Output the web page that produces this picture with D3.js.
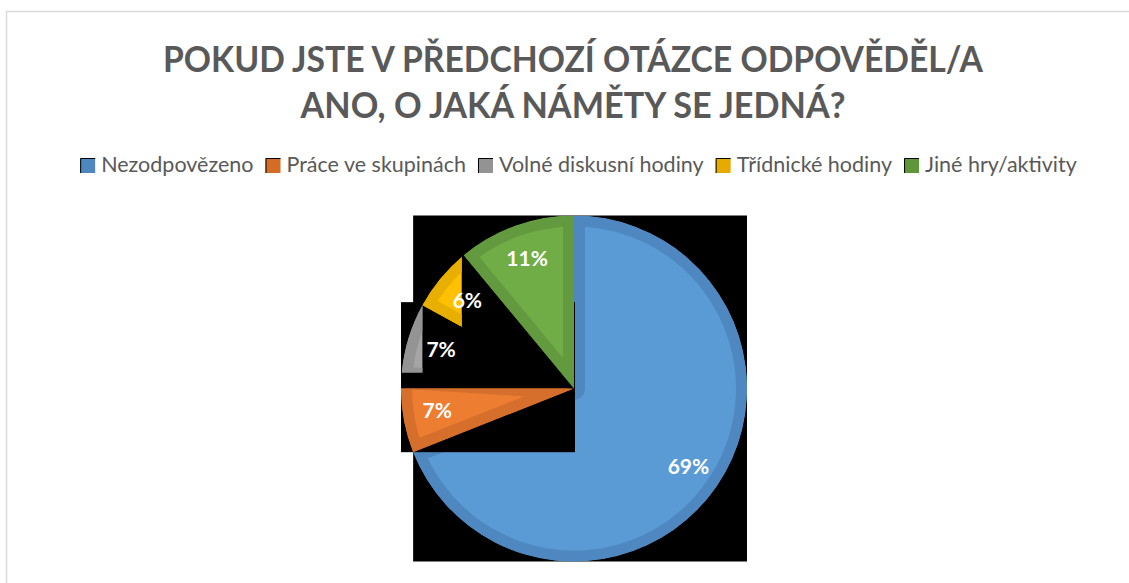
<!DOCTYPE html>
<html>
<head>
<meta charset="utf-8">
<script src="https://cdn.jsdelivr.net/npm/d3@7"></script>
<style>
  body { margin: 0; background: #fff; }
  svg { display: block; }
  .title { font-family: Lato, "Open Sans", sans-serif; font-weight: 700; fill: #595959; }
  .legend text { font-family: Lato, "Open Sans", sans-serif; fill: #595959; }
  .lbl { font-family: Lato, "Open Sans", sans-serif; font-weight: 700; fill: #fff; }
</style>
</head>
<body>
<script>
//size of the page
var w = 1129;
var h = 583;

//data
var titleLines = ["POKUD JSTE V PŘEDCHOZÍ OTÁZCE ODPOVĚDĚL/A", "ANO, O JAKÁ NÁMĚTY SE JEDNÁ?"];
var categories = ["Nezodpovězeno", "Práce ve skupinách", "Volné diskusní hodiny", "Třídnické hodiny", "Jiné hry/aktivity"];
var values = [69, 7, 7, 6, 11];

//colours: slice fill, darker inner rim, legend swatch
var fills = ["#5b9bd5", "#ed7d31", "#a5a5a5", "#ffc000", "#70ad47"];
var rims = ["#4f88c0", "#d66f2b", "#949494", "#e8ae00", "#63993f"];
var swatches = ["#4e86bf", "#d46c26", "#939393", "#e6aa00", "#5f963c"];

//pie geometry
var cx = 574, cy = 388.5, R = 173;

var svg = d3.select("body")
    .append("svg")
    .attr("width", w)
    .attr("height", h);

var defs = svg.append("defs");

//chart frame
svg.append("rect")
    .attr("x", 6.5)
    .attr("y", 11.5)
    .attr("width", w + 20)
    .attr("height", h + 20)
    .attr("fill", "none")
    .attr("stroke", "#d9d9d9")
    .attr("stroke-width", 1.5);

//title (Calibri-like narrow letters: squeeze to the original width)
var titleWidths = [820, 545];
svg.selectAll(".title")
    .data(titleLines)
    .enter()
    .append("text")
    .attr("class", "title")
    .attr("x", 573)
    .attr("y", function(d, i) { return 72 + i * 46; })
    .attr("text-anchor", "middle")
    .attr("font-size", 36)
    .attr("textLength", function(d, i) { return titleWidths[i]; })
    .attr("lengthAdjust", "spacingAndGlyphs")
    .text(function(d) { return d; });

//legend, laid out item by item and then centred
var legend = svg.append("g").attr("class", "legend");
var items = legend.selectAll("g")
    .data(categories)
    .enter()
    .append("g");

items.append("rect")
    .attr("y", 158)
    .attr("width", 15)
    .attr("height", 15)
    .attr("fill", function(d, i) { return swatches[i]; });

items.append("path")
    .attr("d", "M0.5,173V158.5H15")
    .attr("fill", "none")
    .attr("stroke", "#000")
    .attr("stroke-width", 1);

items.append("text")
    .attr("x", 21)
    .attr("y", 172)
    .attr("font-size", 21.5)
    .text(function(d) { return d; });

var pos = 0;
items.each(function() {
    var g = d3.select(this);
    g.attr("transform", "translate(" + pos + ",0)");
    pos += 21 + g.select("text").node().getComputedTextLength() + 12;
});
pos -= 12;
legend.attr("transform", "translate(" + (578.5 - pos / 2) + ",0)");

//pie
var pie = d3.pie().sort(null).value(function(d) { return d; });
var arcs = pie(values);

var arc = d3.arc().innerRadius(0).outerRadius(R);
var labelArc = d3.arc().innerRadius(R * 0.8).outerRadius(R * 0.8);

//point on the rim at a given angle
function rim(a) { return [R * Math.sin(a), -R * Math.cos(a)]; }

var blueEnd = rim(arcs[0].endAngle);
var grayEnd = rim(arcs[2].endAngle);
var yellowEnd = rim(arcs[3].endAngle);

var g = svg.append("g")
    .attr("transform", "translate(" + cx + "," + cy + ")");

//clip to each slice so the rim stroke only shows inside
arcs.forEach(function(d, i) {
    defs.append("clipPath")
        .attr("id", "slice" + i)
        .append("path")
        .attr("d", arc(d));
});

//rendering glitches of the original: black boxes and cut slices
var cuts = [
    null,
    { x: -R - 2, y: 0, w: R + 2, h: R + 2 },
    { x: -R - 2, y: -R, w: grayEnd[0] + R + 2, h: R - 16 },
    { x: -R - 2, y: -R, w: yellowEnd[0] - 2 + R + 2, h: R },
    null
];
cuts.forEach(function(c, i) {
    if (!c) return;
    defs.append("clipPath")
        .attr("id", "cut" + i)
        .append("rect")
        .attr("x", c.x).attr("y", c.y)
        .attr("width", c.w).attr("height", c.h);
});

function drawSlice(i) {
    var outer = g.append("g");
    if (cuts[i]) outer.attr("clip-path", "url(#cut" + i + ")");
    outer.append("g")
        .attr("clip-path", "url(#slice" + i + ")")
        .append("path")
        .attr("d", arc(arcs[i]))
        .attr("fill", fills[i])
        .attr("stroke", rims[i])
        .attr("stroke-width", 22)
        .attr("stroke-linejoin", "round");
}

//black box behind the pie
g.append("rect")
    .attr("x", blueEnd[0])
    .attr("y", -R)
    .attr("width", R - blueEnd[0])
    .attr("height", 2 * R)
    .attr("fill", "#000");

drawSlice(0);

//second black box over the left part
g.append("rect")
    .attr("x", -R)
    .attr("y", grayEnd[1] - 3)
    .attr("width", R + 1)
    .attr("height", blueEnd[1] - grayEnd[1] + 3)
    .attr("fill", "#000");

drawSlice(1);
drawSlice(2);
drawSlice(3);
drawSlice(4);

//data labels
g.selectAll(".lbl")
    .data(arcs)
    .enter()
    .append("text")
    .attr("class", "lbl")
    .attr("transform", function(d) { return "translate(" + labelArc.centroid(d) + ")"; })
    .attr("text-anchor", "middle")
    .attr("dy", "0.35em")
    .attr("font-size", 21)
    .text(function(d) { return d.data + "%"; });
</script>
</body>
</html>
